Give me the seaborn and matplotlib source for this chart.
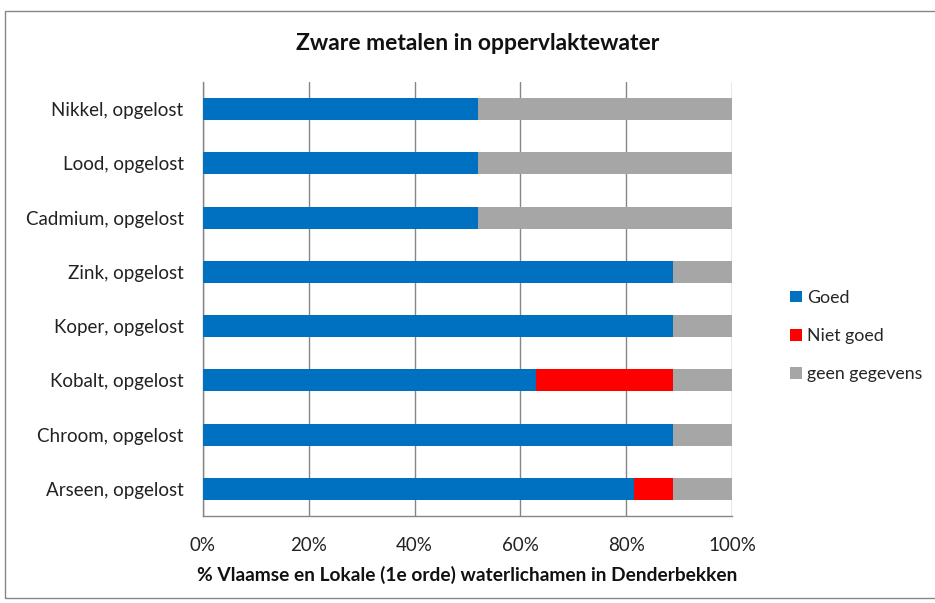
import matplotlib
matplotlib.use("Agg")
import matplotlib.pyplot as plt
import seaborn as sns
import pandas as pd
import numpy as np
from matplotlib.patches import Rectangle, Patch

categories = ["Nikkel, opgelost", "Lood, opgelost", "Cadmium, opgelost", "Zink, opgelost",
              "Koper, opgelost", "Kobalt, opgelost", "Chroom, opgelost", "Arseen, opgelost"]
goed = [51.9, 51.9, 51.9, 88.9, 88.9, 63.0, 88.9, 81.5]
niet_goed = [0.0, 0.0, 0.0, 0.0, 0.0, 25.9, 0.0, 7.4]
geen_gegevens = [48.1, 48.1, 48.1, 11.1, 11.1, 11.1, 11.1, 11.1]
series_names = ["Goed", "Niet goed", "geen gegevens"]
colors = ["#0070C0", "#FF0000", "#A6A6A6"]
xticks = [0, 20, 40, 60, 80, 100]
xticklabels = ["0%", "20%", "40%", "60%", "80%", "100%"]

df = pd.DataFrame({"cat": categories, "goed": goed, "niet": niet_goed, "geen": geen_gegevens})
df["c1"] = df["goed"]
df["c2"] = df["goed"] + df["niet"]
df["c3"] = df["c2"] + df["geen"]

sns.set_theme(style="white")
plt.rcParams["font.family"] = ["Lato", "DejaVu Sans"]

fig = plt.figure(figsize=(9.35, 6.03), dpi=100)
ax = fig.add_axes([203/935, 1-516/603, (732-203)/935, (516-82)/603])

for col, c in zip(["c3", "c2", "c1"], colors[::-1]):
    sns.barplot(data=df, x=col, y="cat", order=categories, color=c, orient="h",
                width=0.41, ax=ax, saturation=1, linewidth=0, zorder=3)

fs = 13.5
ax.set_xlim(0, 100)
ax.set_ylim(len(categories) - 0.5, -0.5)
ax.set_xticks(xticks)
ax.set_xticklabels(xticklabels, fontsize=fs, color="#222222")
ax.tick_params(axis="y", which="major", length=0, labelsize=fs, labelcolor="#222222", pad=14)
ax.set_yticks(np.arange(-0.5, len(categories), 1), minor=True)
ax.tick_params(axis="y", which="minor", length=5, color="#868686", direction="out", width=1)
ax.tick_params(axis="x", which="major", length=5, color="#868686", direction="out", width=1, pad=10)
ax.grid(axis="x", color="#868686", linewidth=1, zorder=0)
ax.set_axisbelow(True)
for s in ["top", "right"]:
    ax.spines[s].set_visible(False)
for s in ["left", "bottom"]:
    ax.spines[s].set_color("#868686")
    ax.spines[s].set_linewidth(1)
ax.set_ylabel("")
ax.set_xlabel("% Vlaamse en Lokale (1e orde) waterlichamen in Denderbekken",
              fontsize=13.8, fontweight="bold", labelpad=9, color="#111111")

fig.text(478/935, 1-44/603, "Zware metalen in oppervlaktewater", ha="center", va="center",
         fontsize=16.5, fontweight="bold", color="#111111")

handles = [Patch(facecolor=c, edgecolor="none") for c in colors]
leg = fig.legend(handles, series_names, loc="center left", bbox_to_anchor=(774/935, 1-336/603),
                 frameon=False, fontsize=12.8, handlelength=0.65, handleheight=0.65,
                 handletextpad=0.3, labelspacing=1.25)

fig.add_artist(Rectangle((5/935, 1-598/603), 1.2, (598-11)/603, transform=fig.transFigure,
                         fill=False, edgecolor="#868686", linewidth=1))

fig.savefig("out.png", dpi=100)
